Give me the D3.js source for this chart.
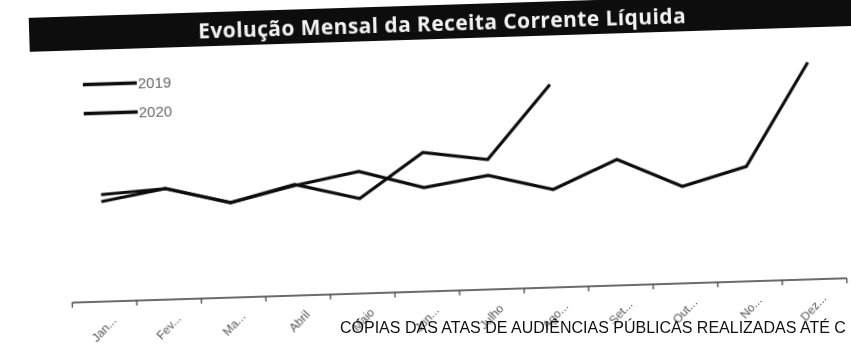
<!DOCTYPE html>
<html>
<head>
<meta charset="utf-8">
<script src="https://cdn.jsdelivr.net/npm/d3@7"></script>
<style>
  html, body { margin: 0; padding: 0; background: #fff; }
  svg { display: block; }
</style>
</head>
<body>
<svg id="chart" width="851" height="348"></svg>
<script>
// Receita Corrente Líquida – monthly values
const months = ["Janeiro", "Fevereiro", "Março", "Abril", "Maio", "Junho",
                "Julho", "Agosto", "Setembro", "Outubro", "Novembro", "Dezembro"];
const monthLabels = ["Jan...", "Fev...", "Ma...", "Abril", "Maio", "Jun...",
                     "Julho", "Ago...", "Set...", "Out...", "No...", "Dez..."];
const values2019 = [107, 111, 95, 110, 122, 104, 114, 98, 126, 97, 115, 217];
const values2020 = [100, 111, 95, 111, 95, 139, 130, 203];
const seriesNames = ["2019", "2020"];
const titleText = "Evolução Mensal da Receita Corrente Líquida";
const footerText = "CÓPIAS DAS ATAS DE AUDIÊNCIAS PÚBLICAS REALIZADAS ATÉ C";

const svg = d3.select("#chart");

const defs = svg.append("defs");
defs.append("filter").attr("id", "soft")
  .append("feGaussianBlur").attr("stdDeviation", 0.5);

// the printed sheet sits slightly tilted
const page = svg.append("g")
  .attr("transform", "rotate(-1.8, 440, 180)")
  .attr("filter", "url(#soft)");

// title band
page.append("rect")
  .attr("x", 34).attr("y", 5)
  .attr("width", 900).attr("height", 34)
  .attr("fill", "#0d0d0d");
page.append("text")
  .attr("x", 447).attr("y", 31)
  .attr("text-anchor", "middle")
  .attr("font-family", "'Open Sans', sans-serif")
  .attr("font-weight", 700)
  .attr("font-size", 21)
  .attr("letter-spacing", 0.4)
  .attr("fill", "#f2f2f2")
  .text(titleText);

// scales
const x = d3.scaleBand().domain(months).range([68.5, 843.5]);
const y = d3.scaleLinear().domain([0, 250]).range([291, 41]);

// category axis with ticks between months
const axisG = page.append("g").attr("transform", `translate(0, ${y(0)})`);
axisG.append("line")
  .attr("x1", x.range()[0]).attr("x2", x.range()[1])
  .attr("stroke", "#3a3a3a").attr("stroke-width", 1.6);
const edges = months.map(m => x(m)).concat([x.range()[1]]);
axisG.selectAll("line.tick").data(edges).join("line")
  .attr("class", "tick")
  .attr("x1", d => d).attr("x2", d => d)
  .attr("y1", 0).attr("y2", 5)
  .attr("stroke", "#3a3a3a").attr("stroke-width", 1.2);
axisG.selectAll("text").data(months).join("text")
  .attr("transform", m => `translate(${x(m) + x.bandwidth() / 2 + 9}, 17) rotate(-45)`)
  .attr("text-anchor", "end")
  .attr("dy", "0.35em")
  .attr("font-family", "'Liberation Sans', Arial, sans-serif")
  .attr("font-size", 12)
  .attr("fill", "#555")
  .text((m, i) => monthLabels[i]);

// series lines
const line = d3.line()
  .x((d, i) => x(months[i]) + x.bandwidth() / 2)
  .y(d => y(d));
[values2019, values2020].forEach(vals => {
  page.append("path")
    .datum(vals)
    .attr("d", line)
    .attr("fill", "none")
    .attr("stroke", "#111")
    .attr("stroke-width", 3.2)
    .attr("stroke-linejoin", "miter");
});

// legend
const legend = page.append("g");
seriesNames.forEach((name, i) => {
  const ly = 73.5 + i * 29;
  legend.append("line")
    .attr("x1", 86).attr("x2", 140)
    .attr("y1", ly).attr("y2", ly)
    .attr("stroke", "#111").attr("stroke-width", 3.4);
  legend.append("text")
    .attr("x", 141).attr("y", ly)
    .attr("dy", "0.35em")
    .attr("font-family", "'Liberation Sans', Arial, sans-serif")
    .attr("font-size", 15)
    .attr("fill", "#666")
    .text(name);
});

// footer line of the sheet
svg.append("text")
  .attr("x", 340).attr("y", 333)
  .attr("font-family", "'Liberation Sans', Arial, sans-serif")
  .attr("font-size", 16)
  .attr("fill", "#111")
  .text(footerText);
</script>
</body>
</html>
